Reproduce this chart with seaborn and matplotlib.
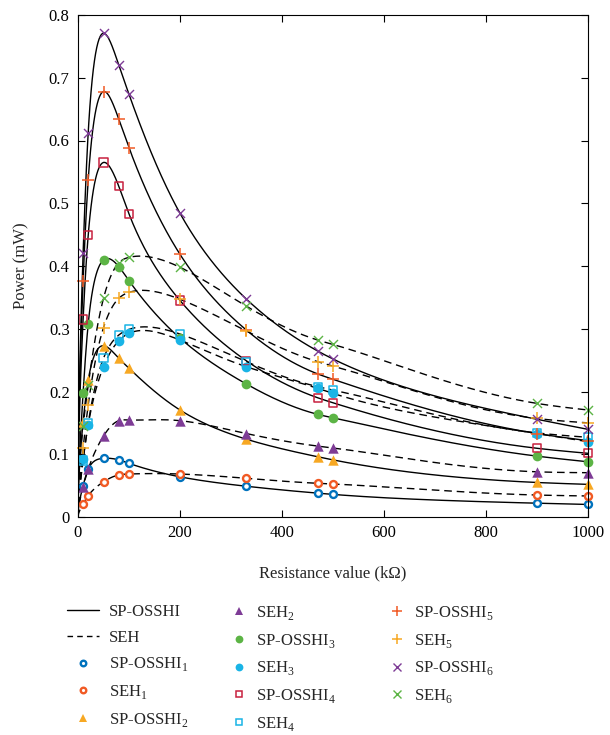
import numpy as np
import matplotlib
matplotlib.use("Agg")
import matplotlib.pyplot as plt
from matplotlib.lines import Line2D
import seaborn as sns

# Load resistance (kOhm) and harvested power (mW)
resistance = [10, 20, 50, 80, 100, 200, 330, 470, 500, 900, 1000]

sp_osshi_1 = [0.050, 0.076, 0.0935, 0.091, 0.0855, 0.064, 0.049, 0.038, 0.036, 0.022, 0.020]
seh_1 = [0.0207, 0.034, 0.056, 0.067, 0.0685, 0.0685, 0.0617, 0.0537, 0.0526, 0.035, 0.0335]
sp_osshi_2 = [0.152, 0.218, 0.273, 0.253, 0.237, 0.1705, 0.124, 0.096, 0.091, 0.055, 0.052]
seh_2 = [0.048, 0.076, 0.129, 0.1535, 0.1546, 0.1535, 0.133, 0.113, 0.110, 0.072, 0.0706]
sp_osshi_3 = [0.198, 0.3075, 0.4096, 0.399, 0.3766, 0.285, 0.212, 0.1636, 0.158, 0.097, 0.088]
seh_3 = [0.092, 0.147, 0.2395, 0.281, 0.2927, 0.282, 0.2395, 0.205, 0.197, 0.133, 0.120]
sp_osshi_4 = [0.315, 0.449, 0.565, 0.527, 0.483, 0.345, 0.249, 0.190, 0.182, 0.1095, 0.1015]
seh_4 = [0.090, 0.149, 0.253, 0.290, 0.299, 0.2916, 0.2475, 0.2077, 0.2024, 0.134, 0.127]
sp_osshi_5 = [0.376, 0.537, 0.678, 0.634, 0.5886, 0.4186, 0.298, 0.228, 0.2194, 0.133, 0.1216]
seh_5 = [0.1094, 0.1785, 0.3017, 0.3485, 0.358, 0.347, 0.2964, 0.2475, 0.2406, 0.157, 0.150]
sp_osshi_6 = [0.420, 0.6125, 0.771, 0.7203, 0.6736, 0.484, 0.3474, 0.2645, 0.2518, 0.1557, 0.1397]
seh_6 = [0.145, 0.210, 0.3485, 0.405, 0.4138, 0.398, 0.336, 0.282, 0.275, 0.181, 0.1705]

x_ticks = [0, 200, 400, 600, 800, 1000]
y_ticks = [0, 0.1, 0.2, 0.3, 0.4, 0.5, 0.6, 0.7, 0.8]
y_tick_labels = ["0", "0.1", "0.2", "0.3", "0.4", "0.5", "0.6", "0.7", "0.8"]

blue = "#0072BD"
orange_red = "#F15A24"
yellow = "#F7A823"
purple = "#7E3C96"
green = "#5CB445"
cyan = "#19B4E6"
crimson = "#C8213F"

# name, values, curve style, marker, size, face, edge, edge width
series = [
    ("SP-OSSHI$_\\mathregular{1}$", sp_osshi_1, "-", "o", 5.0, "white", blue, 1.7),
    ("SEH$_\\mathregular{1}$", seh_1, "--", "o", 5.0, "white", orange_red, 1.7),
    ("SP-OSSHI$_\\mathregular{2}$", sp_osshi_2, "-", "^", 7.5, yellow, yellow, 0.0),
    ("SEH$_\\mathregular{2}$", seh_2, "--", "^", 7.5, purple, purple, 0.0),
    ("SP-OSSHI$_\\mathregular{3}$", sp_osshi_3, "-", "o", 7.0, green, green, 0.0),
    ("SEH$_\\mathregular{3}$", seh_3, "--", "o", 7.0, cyan, cyan, 0.0),
    ("SP-OSSHI$_\\mathregular{4}$", sp_osshi_4, "-", "s", 6.0, "none", crimson, 1.1),
    ("SEH$_\\mathregular{4}$", seh_4, "--", "s", 6.0, "none", cyan, 1.1),
    ("SP-OSSHI$_\\mathregular{5}$", sp_osshi_5, "-", "+", 8.5, orange_red, orange_red, 1.1),
    ("SEH$_\\mathregular{5}$", seh_5, "--", "+", 8.5, yellow, yellow, 1.1),
    ("SP-OSSHI$_\\mathregular{6}$", sp_osshi_6, "-", "x", 6.5, purple, purple, 1.0),
    ("SEH$_\\mathregular{6}$", seh_6, "--", "x", 6.5, green, green, 1.0),
]


def natural_spline(xk, yk, xq):
    """Natural cubic spline through the knots (xk, yk), evaluated at xq."""
    xk = np.asarray(xk, float)
    yk = np.asarray(yk, float)
    n = len(xk)
    h = np.diff(xk)
    A = np.zeros((n, n))
    rhs = np.zeros(n)
    A[0, 0] = 1.0
    A[-1, -1] = 1.0
    for i in range(1, n - 1):
        A[i, i - 1] = h[i - 1]
        A[i, i] = 2 * (h[i - 1] + h[i])
        A[i, i + 1] = h[i]
        rhs[i] = 3 * ((yk[i + 1] - yk[i]) / h[i] - (yk[i] - yk[i - 1]) / h[i - 1])
    c = np.linalg.solve(A, rhs)
    b = (yk[1:] - yk[:-1]) / h - h * (2 * c[:-1] + c[1:]) / 3
    d = (c[1:] - c[:-1]) / (3 * h)
    idx = np.clip(np.searchsorted(xk, xq) - 1, 0, n - 2)
    dx = xq - xk[idx]
    return yk[idx] + b[idx] * dx + c[idx] * dx ** 2 + d[idx] * dx ** 3


sns.set_style("ticks")
plt.rcParams["font.family"] = ["Liberation Serif", "DejaVu Serif"]
plt.rcParams["mathtext.fontset"] = "custom"
plt.rcParams["mathtext.rm"] = "Liberation Serif"
plt.rcParams["font.size"] = 12

fig = plt.figure(figsize=(6.1, 7.35), dpi=100)
ax = fig.add_axes([78 / 610, (735 - 517) / 735, 510 / 610, 502 / 735])

# Smooth fitted curves (power is zero at zero load), spline in sqrt(R)
r_fine = np.linspace(0, 1000, 900)
u_fine = np.sqrt(r_fine)
u_knots = np.sqrt(np.concatenate([[0.0], resistance]))
for name, vals, ls, *_ in series:
    p_fine = natural_spline(u_knots, np.concatenate([[0.0], vals]), u_fine)
    line_kws = dict(color="black", lw=1.0)
    if ls == "--":
        line_kws["dashes"] = (5.5, 3.5)
    sns.lineplot(x=r_fine, y=p_fine, ax=ax, estimator=None, sort=False,
                 legend=False, zorder=2, **line_kws)

# Measured points
for name, vals, ls, marker, ms, face, edge, mew in series:
    if marker in ("+", "x"):
        sns.scatterplot(x=resistance, y=vals, marker=marker, s=ms ** 2,
                        color=edge, linewidth=mew, ax=ax, legend=False,
                        zorder=3, clip_on=False)
    else:
        sns.scatterplot(x=resistance, y=vals, marker=marker, s=ms ** 2,
                        facecolor=face, edgecolor=edge, linewidth=mew,
                        ax=ax, legend=False, zorder=3, clip_on=False)

ax.set_xlim(0, 1000)
ax.set_ylim(0, 0.8)
ax.set_xticks(x_ticks)
ax.set_xticklabels([str(t) for t in x_ticks])
ax.set_yticks(y_ticks)
ax.set_yticklabels(y_tick_labels)
ax.tick_params(direction="in", length=5, width=0.8, top=True, right=True,
               labelsize=12, pad=6, colors="black")
for sp in ax.spines.values():
    sp.set_visible(True)
    sp.set_linewidth(0.8)
    sp.set_color("black")
    sp.set_zorder(4)
ax.set_xlabel("Resistance value (k\u03a9)", fontsize=12, labelpad=17)
ax.set_ylabel("Power (mW)", fontsize=12, labelpad=14)


# Legend split into three columns
def handle(entry):
    name, vals, ls, marker, ms, face, edge, mew = entry
    if marker in ("+", "x"):
        return Line2D([], [], ls="none", marker=marker, ms=ms * 0.8,
                      mec=edge, mew=mew)
    return Line2D([], [], ls="none", marker=marker, ms=ms * 0.8,
                  mfc=face, mec=edge, mew=mew)


col1 = [Line2D([], [], color="black", lw=1.0),
        Line2D([], [], color="black", lw=1.0, dashes=(4, 3))] + \
       [handle(e) for e in series[0:3]]
col1_labels = ["SP-OSSHI", "SEH"] + [e[0] for e in series[0:3]]
col2 = [handle(e) for e in series[3:8]]
col2_labels = [e[0] for e in series[3:8]]
col3 = [handle(e) for e in series[8:12]]
col3_labels = [e[0] for e in series[8:12]]

top_px = 604
common = dict(frameon=False, fontsize=12, borderpad=0, borderaxespad=0,
              labelspacing=0.58, loc="upper left",
              bbox_transform=fig.transFigure)
fig.legend(col1, col1_labels, handlelength=1.9, handletextpad=0.6,
           bbox_to_anchor=(67 / 610, 1 - top_px / 735), **common)
fig.legend(col2, col2_labels, handlelength=1.0, handletextpad=0.5,
           bbox_to_anchor=(231 / 610, 1 - top_px / 735), **common)
fig.legend(col3, col3_labels, handlelength=1.0, handletextpad=0.5,
           bbox_to_anchor=(389 / 610, 1 - top_px / 735), **common)

fig.savefig("out.png", dpi=100)
